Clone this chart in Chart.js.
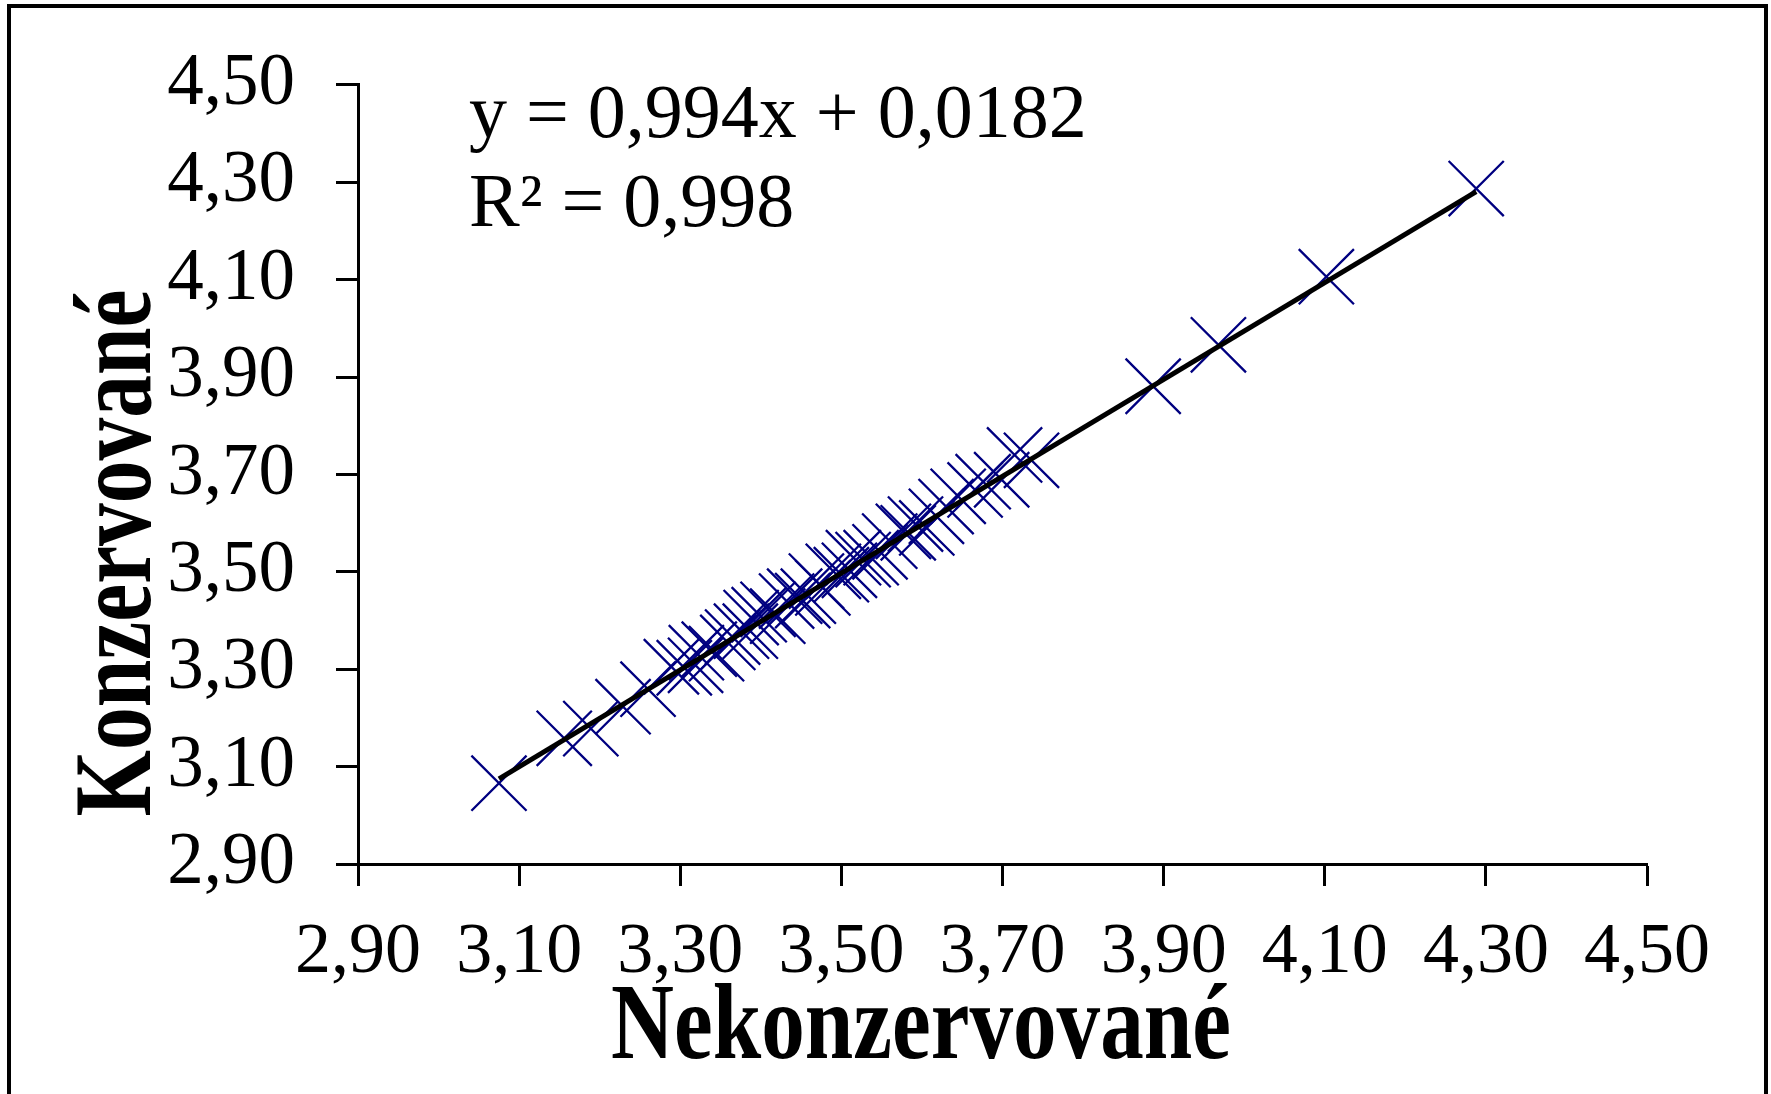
<!DOCTYPE html>
<html>
<head>
<meta charset="utf-8">
<title>Konzervované vs. Nekonzervované</title>
<script src="https://cdn.jsdelivr.net/npm/chart.js@4/dist/chart.umd.min.js"></script>
<style>
  html, body { margin: 0; padding: 0; background: #ffffff; }
  #wrap { width: 1771px; height: 1094px; }
</style>
</head>
<body>
<div id="wrap"><canvas id="chart" width="1771" height="1094"></canvas></div>
<script>
// Paired measurements: unpreserved (x) vs. preserved (y)
const nekonzervovane = [
  3.075, 3.156, 3.189, 3.229, 3.260, 3.289, 3.305, 3.319, 3.320, 3.336,
  3.345, 3.359, 3.365, 3.376, 3.387, 3.388, 3.398, 3.409, 3.421, 3.432,
  3.442, 3.452, 3.459, 3.469, 3.477, 3.490, 3.500, 3.510, 3.515, 3.527,
  3.537, 3.548, 3.560, 3.577, 3.583, 3.592, 3.606, 3.618, 3.630, 3.645,
  3.666, 3.676, 3.699, 3.715, 3.736, 3.887, 3.968, 4.102, 4.288
];
const konzervovane = [
  3.066, 3.158, 3.178, 3.223, 3.259, 3.305, 3.303, 3.308, 3.334, 3.341,
  3.332, 3.355, 3.366, 3.378, 3.378, 3.406, 3.412, 3.423, 3.409, 3.440,
  3.450, 3.441, 3.450, 3.481, 3.467, 3.501, 3.494, 3.503, 3.529, 3.525,
  3.529, 3.541, 3.563, 3.583, 3.580, 3.598, 3.590, 3.614, 3.634, 3.655,
  3.668, 3.685, 3.689, 3.740, 3.729, 3.881, 3.966, 4.106, 4.287
];

// Axis tick values (shared by both axes)
const xTickValues = [2.9, 3.1, 3.3, 3.5, 3.7, 3.9, 4.1, 4.3, 4.5];
const yTickValues = [2.9, 3.1, 3.3, 3.5, 3.7, 3.9, 4.1, 4.3, 4.5];

// Linear trendline coefficients
const trendSlope = 0.994;
const trendIntercept = 0.0182;
const rSquared = 0.998;

const xTitle = 'Nekonzervované';
const yTitle = 'Konzervované';

const fmt = (v, d) => v.toFixed(d).replace('.', ',');
const eqLine1 = 'y = ' + fmt(trendSlope, 3) + 'x + ' + fmt(trendIntercept, 4);
const eqLine2 = 'R\u00B2 = ' + fmt(rSquared, 3);

const points = nekonzervovane.map((x, i) => ({ x: x, y: konzervovane[i] }));
const xMin = Math.min(...nekonzervovane);
const xMax = Math.max(...nekonzervovane);
const trendPoints = [xMin, xMax].map(x => ({ x: x, y: trendSlope * x + trendIntercept }));

const SERIF = '"Liberation Serif", "Times New Roman", serif';

// Outer frame, trendline label and axis titles (titles are drawn condensed)
const decorations = {
  id: 'decorations',
  afterDraw(chart) {
    const { ctx, chartArea } = chart;
    ctx.save();
    ctx.strokeStyle = '#000';
    ctx.lineWidth = 4;
    ctx.strokeRect(9, 6, 1757, 1110);

    ctx.fillStyle = '#000';
    ctx.textAlign = 'left';
    ctx.textBaseline = 'alphabetic';
    ctx.font = '76px ' + SERIF;
    ctx.fillText(eqLine1, chartArea.left + 111, 137);
    ctx.fillText(eqLine2, chartArea.left + 111, 226);

    // x axis title
    ctx.save();
    ctx.translate(chartArea.left + 563, 1058);
    ctx.scale(0.8, 1);
    ctx.font = 'bold 109px ' + SERIF;
    ctx.textAlign = 'center';
    ctx.fillText(xTitle, 0, 0);
    ctx.restore();

    // y axis title
    ctx.save();
    ctx.translate(150, 553);
    ctx.rotate(-Math.PI / 2);
    ctx.scale(0.77, 1);
    ctx.font = 'bold 111px ' + SERIF;
    ctx.textAlign = 'center';
    ctx.fillText(yTitle, 0, 0);
    ctx.restore();

    ctx.restore();
  }
};

const axisCommon = {
  type: 'linear',
  min: 2.9,
  max: 4.5,
  border: { display: true, color: '#000', width: 3 },
  grid: {
    drawOnChartArea: false,
    drawTicks: true,
    tickLength: 22,
    tickWidth: 3,
    tickColor: '#000',
    color: '#000'
  }
};

new Chart(document.getElementById('chart'), {
  type: 'scatter',
  data: {
    datasets: [
      {
        label: 'trend',
        type: 'line',
        data: trendPoints,
        borderColor: '#000',
        borderWidth: 5,
        pointRadius: 0,
        pointHoverRadius: 0,
        showLine: true,
        fill: false,
        order: 0
      },
      {
        label: 'data',
        data: points,
        pointStyle: 'crossRot',
        pointRadius: 39,
        pointHoverRadius: 39,
        borderColor: '#000080',
        backgroundColor: '#000080',
        borderWidth: 2.3,
        pointBorderWidth: 2.3,
        showLine: false,
        order: 1
      }
    ]
  },
  options: {
    responsive: false,
    animation: false,
    events: [],
    layout: { padding: { top: 82, right: 124, left: 0, bottom: 0 } },
    plugins: { legend: { display: false }, tooltip: { enabled: false } },
    scales: {
      x: Object.assign({}, axisCommon, {
        position: 'bottom',
        afterBuildTicks: s => { s.ticks = xTickValues.map(v => ({ value: v })); },
        afterFit: s => { s.height = 230; },
        ticks: {
          autoSkip: false,
          maxRotation: 0,
          padding: 24,
          color: '#000',
          font: { family: SERIF, size: 72 },
          callback: v => fmt(v, 2)
        }
      }),
      y: Object.assign({}, axisCommon, {
        position: 'left',
        afterBuildTicks: s => { s.ticks = yTickValues.map(v => ({ value: v })); },
        afterFit: s => { s.width = 358; },
        ticks: {
          autoSkip: false,
          padding: 41,
          color: '#000',
          font: { family: SERIF, size: 73 },
          callback: v => fmt(v, 2)
        }
      })
    }
  },
  plugins: [decorations]
});
</script>
</body>
</html>
